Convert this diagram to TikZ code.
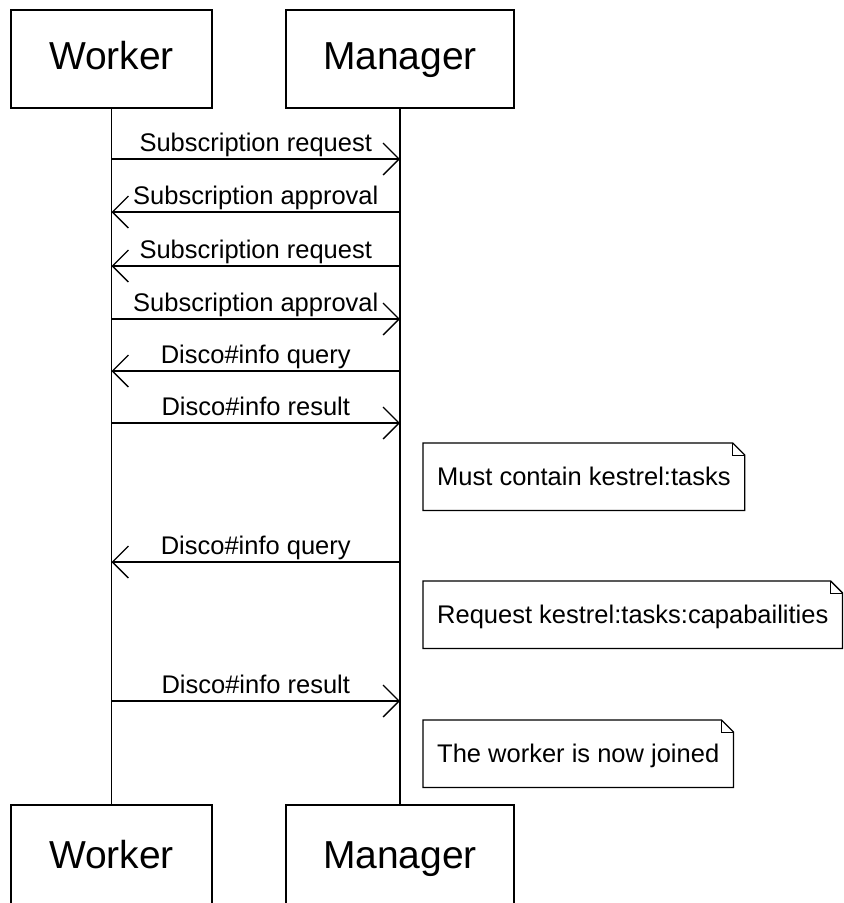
\documentclass[tikz,border=0pt]{standalone}
\usepackage{fontspec}
\setmainfont{Liberation Sans}
\usetikzlibrary{arrows.meta}

\begin{document}
\begin{tikzpicture}[x=1pt,y=-1pt,
    actor/.style={draw,line width=1.3pt,minimum height=98pt,inner sep=0pt,
        text height=28pt,text depth=7pt,font=\fontsize{39}{41}\selectfont},
    msg/.style={line width=1.3pt,-{Straight Barb[length=16pt,width=32pt,line width=1.3pt]}},
    msglabel/.style={anchor=base,inner sep=0pt,yshift=7.5pt,font=\fontsize{25.5}{27}\selectfont},
    notebox/.style={anchor=north west,minimum height=67pt,inner xsep=14pt,
        text height=18pt,text depth=0pt,font=\fontsize{25.5}{27}\selectfont}]
    \useasboundingbox (0,0) rectangle (844,903);
    \clip (0,0) rectangle (844,903);

    % partecipanti
    \node[actor,minimum width=201pt] (wtop) at (111.5,59) {Worker};
    \node[actor,minimum width=228pt] (mtop) at (400,59) {Manager};
    \node[actor,minimum width=201pt,minimum height=106pt] (wbot) at (111.5,858) {Worker};
    \node[actor,minimum width=228pt,minimum height=106pt] (mbot) at (400,858) {Manager};

    \draw[line width=1.3pt] (wtop.south) -- (wbot.north);
    \draw[line width=1.3pt] (mtop.south) -- (mbot.north);

    % punti dei messaggi
    \foreach \i/\y in {1/159,2/212,3/266,4/319,5/371,6/423,7/562,8/701}{
        \coordinate (w\i) at (111.5,\y);
        \coordinate (m\i) at (400,\y);
    }

    % messaggi
    \draw[msg] (w1) -- node[msglabel]{Subscription request} (m1);
    \draw[msg] (m2) -- node[msglabel]{Subscription approval} (w2);
    \draw[msg] (m3) -- node[msglabel]{Subscription request} (w3);
    \draw[msg] (w4) -- node[msglabel]{Subscription approval} (m4);
    \draw[msg] (m5) -- node[msglabel]{Disco\#info query} (w5);
    \draw[msg] (w6) -- node[msglabel]{Disco\#info result} (m6);
    \draw[msg] (m7) -- node[msglabel]{Disco\#info query} (w7);
    \draw[msg] (w8) -- node[msglabel]{Disco\#info result} (m8);

    % note
    \node[notebox] (n1) at (423,443) {Must contain kestrel:tasks};
    \node[notebox] (n2) at (423,581) {Request kestrel:tasks:capabailities};
    \node[notebox] (n3) at (423,720) {The worker is now joined};
    \foreach \n in {n1,n2,n3}{
        \draw[line width=1.3pt] (\n.north west) -- ([xshift=-12pt]\n.north east)
            -- ([yshift=-12pt]\n.north east) -- (\n.south east) -- (\n.south west) -- cycle;
        \draw[line width=1pt] ([xshift=-12pt]\n.north east) |- ([yshift=-12pt]\n.north east);
    }
\end{tikzpicture}
\end{document}
